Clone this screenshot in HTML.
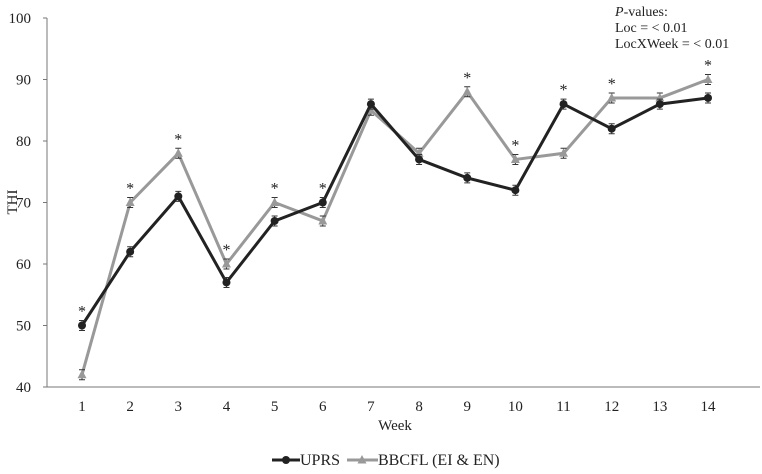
<!DOCTYPE html>
<html><head><meta charset="utf-8"><style>
body{margin:0;background:#fff;}
svg text{font-family:"Liberation Serif",serif;fill:#222;}
</style></head><body>
<svg id="c" width="762" height="469"></svg>
<script>
const weeks=[1,2,3,4,5,6,7,8,9,10,11,12,13,14];
const uprs=[50,62,71,57,67,70,86,77,74,72,86,82,86,87];
const bbcfl=[42,70,78,60,70,67,85,78,88,77,78,87,87,90];
const sig=[1,2,3,4,5,6,9,10,11,12,14];
const yTicks=[40,50,60,70,80,90,100];
const NS="http://www.w3.org/2000/svg";
const svg=document.getElementById('c');
const x0=82,x1=708,yTop=18,yBot=387;
const xs=w=>x0+(w-1)*(x1-x0)/13;
const ys=v=>yBot-(v-40)*(yBot-yTop)/60;
function mk(t,a,p){const e=document.createElementNS(NS,t);for(const k in a)e.setAttribute(k,a[k]);(p||svg).appendChild(e);return e;}
let ax=mk('line',{x1:47,y1:yTop,x2:47,y2:yBot,stroke:'#777','stroke-width':1});


let bx=mk('line',{x1:47,y1:yBot,x2:760,y2:yBot,stroke:'#777','stroke-width':1});


yTicks.forEach(v=>{
 mk('line',{x1:43,y1:ys(v),x2:47,y2:ys(v),stroke:'#777'});
 const t=mk('text',{x:31,y:ys(v)+5,'text-anchor':'end','font-size':15});t.textContent=v;
 
 
});
weeks.forEach(w=>{
 const t=mk('text',{x:xs(w),y:411,'text-anchor':'middle','font-size':15});t.textContent=w;
 
 
});
let yt=mk('text',{x:17,y:202,'text-anchor':'middle','font-size':15,transform:'rotate(-90 17 202)'});yt.textContent='THI';


let xt=mk('text',{x:395,y:430,'text-anchor':'middle','font-size':15});xt.textContent='Week';


function series(vals,color,shape,name){
 const g=mk('g',{});
 
 
 mk('polyline',{points:vals.map((v,i)=>xs(weeks[i])+','+ys(v)).join(' '),fill:'none',stroke:color,'stroke-width':3},g);
 vals.forEach((v,i)=>{
  const x=xs(weeks[i]),y=ys(v);
  mk('path',{d:`M${x-3},${y-5}H${x+3}M${x},${y-5}V${y+5}M${x-3},${y+5}H${x+3}`,stroke:'#333','stroke-width':1},g);
  if(shape==='c')mk('circle',{cx:x,cy:y,r:4,fill:color},g);
  else mk('polygon',{points:`${x},${y-5} ${x+4.5},${y+3.5} ${x-4.5},${y+3.5}`,fill:color},g);
 });
}
series(bbcfl,'#999','t','bbcfl-series');
series(uprs,'#222','c','uprs-series');
sig.forEach(w=>{
 const i=weeks.indexOf(w);const m=Math.max(uprs[i],bbcfl[i]);
 const t=mk('text',{x:xs(w),y:ys(m)-9,'text-anchor':'middle','font-size':16});t.textContent='*';
 
 
});
const pv=mk('text',{x:615,y:16,'font-size':14});


pv.innerHTML='<tspan font-style="italic">P</tspan>-values:<tspan x="615" dy="16">Loc = &lt; 0.01</tspan><tspan x="615" dy="16">LocXWeek = &lt; 0.01</tspan>';
const lg=mk('g',{});


const ly=460;
mk('line',{x1:272,y1:ly,x2:300,y2:ly,stroke:'#222','stroke-width':3},lg);
mk('circle',{cx:286,cy:ly,r:4,fill:'#222'},lg);
let l1=mk('text',{x:300,y:ly+5,'font-size':16},lg);l1.textContent='UPRS';
mk('line',{x1:347,y1:ly,x2:378,y2:ly,stroke:'#999','stroke-width':3},lg);
mk('polygon',{points:`362,${ly-5} 366.5,${ly+3.5} 357.5,${ly+3.5}`,fill:'#999'},lg);
let l2=mk('text',{x:378,y:ly+5,'font-size':16},lg);l2.textContent='BBCFL (EI & EN)';
</script>
</body></html>
